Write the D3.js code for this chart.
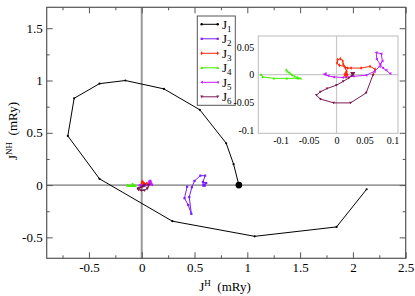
<!DOCTYPE html>
<html><head><meta charset="utf-8">
<script src="https://cdn.jsdelivr.net/npm/d3@7"></script>
<style>body{margin:0;background:#fff}svg{display:block}text{font-family:"Liberation Serif","Times New Roman",serif}</style>
</head><body>
<svg id="c" width="415" height="296"></svg>
<script>
// ---------- data ----------
const seriesNames = ["1","2","3","4","5","6"];
const J1 = [[0.92,0],[0.87,0.20],[0.80,0.40],[0.55,0.72],[0.21,0.92],[-0.155,1.00],[-0.40,0.97],[-0.64,0.83],[-0.70,0.47],[-0.40,0.06],[0.29,-0.345],[1.07,-0.49],[1.845,-0.40],[2.13,-0.04]];
const J2 = [[0.59,0.0],[0.61,0.02],[0.58,0.03],[0.60,0.09],[0.555,0.09],[0.50,0.04],[0.475,-0.02],[0.45,-0.115],[0.47,-0.275],[0.44,-0.19],[0.405,-0.125],[0.43,-0.015]];
const J3 = [[0.017,0],[0.018,0.006],[0.016,0.012],[0.012,0.019],[0.011,0.025],[0.007,0.029],[0.002,0.027],[0.001,0.021],[0.005,0.017],[0.014,0.015],[0.02,0.012],[0.026,0.012],[0.044,0.012],[0.06,0.015],[0.069,0.01],[0.066,0.001]];
const J4 = [[-0.09,0.009],[-0.088,0.006],[-0.085,0.004],[-0.082,0.002],[-0.079,-0.001],[-0.075,-0.003],[-0.07,-0.005],[-0.064,-0.0066],[-0.069,-0.0066],[-0.089,-0.0066],[-0.112,-0.0066],[-0.132,-0.004],[-0.135,0]];
const J5 = [[-0.021,0.001],[-0.015,-0.002],[-0.005,-0.004],[0.011,-0.005],[0.03,-0.003],[0.053,-0.001],[0.068,0.006],[0.077,0.015],[0.082,0.025],[0.08,0.038],[0.071,0.04],[0.072,0.028],[0.078,0.019],[0.083,0.012],[0.089,0.008],[0.096,0.002]];
const J6 = [[0.029,0.001],[0.027,-0.002],[0.022,-0.006],[0.012,-0.012],[0.0,-0.019],[-0.017,-0.025],[-0.029,-0.031],[-0.036,-0.037],[-0.029,-0.044],[-0.005,-0.051],[0.025,-0.051],[0.053,-0.033],[0.065,-0.001]];
const mainXTicks = [-0.5,0,0.5,1,1.5,2,2.5];
const mainYTicks = [-0.5,0,0.5,1,1.5];
const insetXTicks = [-0.1,-0.05,0,0.05,0.1];
const insetYTicks = [-0.1,-0.05,0,0.05];

const colors = ["#000000","#7a1cff","#ff2a0a","#44ee00","#c41cff","#7c1a52"];
const symbols = [d3.symbolCircle, d3.symbolSquare, d3.symbolDiamond, "up", "left", "down"];

const svg = d3.select("#c");

// ---------- main scales ----------
const x = d3.scaleLinear().domain([-0.9,2.5]).range([46.7,405.7]);
const y = d3.scaleLinear().domain([-0.7,1.7]).range([258.3,7.3]);

function tri(dir, s){
  const h=s;
  if(dir==="up") return `M0,${-h}L${h},${h*0.8}L${-h},${h*0.8}Z`;
  if(dir==="down") return `M0,${h}L${h},${-h*0.8}L${-h},${-h*0.8}Z`;
  if(dir==="left") return `M${-h},0L${h*0.8},${-h}L${h*0.8},${h}Z`;
  return `M${h},0L${-h*0.8},${-h}L${-h*0.8},${h}Z`;
}
function markerPath(i, size){
  const s = symbols[i];
  if(typeof s === "string") return tri(s, size);
  return d3.symbol().type(s).size(size*size*2.2)();
}

const gMain = svg.append("g");
// zero lines
gMain.append("line").attr("x1",x(0)).attr("x2",x(0)).attr("y1",y(1.7)).attr("y2",y(-0.7)).attr("stroke","#9a9a9a").attr("stroke-width",2);
gMain.append("line").attr("x1",x(-0.9)).attr("x2",x(2.5)).attr("y1",y(0)).attr("y2",y(0)).attr("stroke","#555").attr("stroke-width",1);

function drawSeries(g, sx, sy, data, i, msize, firstBig){
  g.append("path").datum(data)
    .attr("d", d3.line().x(d=>sx(d[0])).y(d=>sy(d[1])))
    .attr("fill","none").attr("stroke",colors[i]).attr("stroke-width",1);
  g.selectAll(null).data(data).enter().append("path")
    .attr("transform",d=>`translate(${sx(d[0])},${sy(d[1])})`)
    .attr("d",(d,k)=>markerPath(i, (k===0&&firstBig)? firstBig : msize))
    .attr("fill",colors[i]);
}
drawSeries(gMain,x,y,J1,0,1.3,4);
drawSeries(gMain,x,y,J2,1,1.5,2.4);
[J3,J4,J5,J6].forEach((d,k)=>drawSeries(gMain,x,y,d,k+2,1.6,null));

// frame
svg.append("rect").attr("x",x(-0.9)).attr("y",y(1.7)).attr("width",x(2.5)-x(-0.9)).attr("height",y(-0.7)-y(1.7))
  .attr("fill","none").attr("stroke","#555").attr("stroke-width",1.2);

// axes (ticks inward on all sides)
const fmt = d=>String(d);
const minorX = d3.range(-0.75,2.5,0.25).filter(v=>Math.abs(v*2-Math.round(v*2))>1e-6);
const minorY = d3.range(-0.5,1.75,0.25).filter(v=>Math.abs(v*2-Math.round(v*2))>1e-6);
function styleAxis(g){ g.select(".domain").remove(); g.selectAll("line").attr("stroke","#555"); g.selectAll("text").attr("font-size",13).attr("fill","#000").style("font-family",'"Liberation Serif",serif'); }
svg.append("g").attr("transform",`translate(0,${y(-0.7)})`).call(d3.axisBottom(x).tickValues(mainXTicks).tickSize(-6).tickPadding(4).tickFormat(fmt)).call(styleAxis);
svg.append("g").attr("transform",`translate(0,${y(-0.7)})`).call(d3.axisBottom(x).tickValues(minorX).tickSize(-3).tickFormat("")).call(styleAxis);
svg.append("g").attr("transform",`translate(0,${y(1.7)})`).call(d3.axisTop(x).tickValues(mainXTicks).tickSize(-6).tickFormat("")).call(styleAxis);
svg.append("g").attr("transform",`translate(0,${y(1.7)})`).call(d3.axisTop(x).tickValues(minorX).tickSize(-3).tickFormat("")).call(styleAxis);
svg.append("g").attr("transform",`translate(${x(-0.9)},0)`).call(d3.axisLeft(y).tickValues(mainYTicks).tickSize(-6).tickPadding(4).tickFormat(fmt)).call(styleAxis);
svg.append("g").attr("transform",`translate(${x(-0.9)},0)`).call(d3.axisLeft(y).tickValues(minorY).tickSize(-3).tickFormat("")).call(styleAxis);
svg.append("g").attr("transform",`translate(${x(2.5)},0)`).call(d3.axisRight(y).tickValues(mainYTicks).tickSize(-6).tickFormat("")).call(styleAxis);
svg.append("g").attr("transform",`translate(${x(2.5)},0)`).call(d3.axisRight(y).tickValues(minorY).tickSize(-3).tickFormat("")).call(styleAxis);

// axis titles
const xt = svg.append("text").attr("x",225).attr("y",291).attr("text-anchor","middle").attr("font-size",13);
xt.append("tspan").text("J");
xt.append("tspan").attr("dy",-5).attr("font-size",9).text("H");
xt.append("tspan").attr("dy",5).text("\u00a0 (mRy)");
const yt = svg.append("text").attr("transform","translate(17,131) rotate(-90)").attr("text-anchor","middle").attr("font-size",13);
yt.append("tspan").text("J");
yt.append("tspan").attr("dy",-5).attr("font-size",9).text("NH");
yt.append("tspan").attr("dy",5).text("\u00a0 (mRy)");

// ---------- legend ----------
const lg = svg.append("g");
lg.append("rect").attr("x",197.3).attr("y",16).attr("width",38).attr("height",89.3).attr("fill","#fff").attr("stroke","#555").attr("stroke-width",1);
seriesNames.forEach((n,i)=>{
  const yy = 24.3 + i*14.5;
  lg.append("line").attr("x1",201.7).attr("x2",217.7).attr("y1",yy).attr("y2",yy).attr("stroke",colors[i]).attr("stroke-width",1);
  [201.7,217.7].forEach(xx=>lg.append("path").attr("transform",`translate(${xx},${yy})`).attr("d",markerPath(i,1.5)).attr("fill",colors[i]));
  const t = lg.append("text").attr("x",222).attr("y",yy+4.5).attr("font-size",13);
  t.append("tspan").text("J");
  t.append("tspan").attr("dy",3).attr("font-size",9).text(n);
});

// ---------- inset ----------
const xi = d3.scaleLinear().domain([-0.14,0.11]).range([258.3,398]);
const yi = d3.scaleLinear().domain([-0.106,0.07]).range([133.3,36]);
const gi = svg.append("g");
gi.append("rect").attr("x",xi(-0.14)).attr("y",yi(0.07)).attr("width",xi(0.11)-xi(-0.14)).attr("height",yi(-0.106)-yi(0.07)).attr("fill","#fff");
gi.append("line").attr("x1",xi(0)).attr("x2",xi(0)).attr("y1",yi(0.07)).attr("y2",yi(-0.106)).attr("stroke","#c8c8c8").attr("stroke-width",1.2);
gi.append("line").attr("x1",xi(-0.14)).attr("x2",xi(0.11)).attr("y1",yi(0)).attr("y2",yi(0)).attr("stroke","#c8c8c8").attr("stroke-width",1.2);
drawSeries(gi,xi,yi,J3,2,1.4,3.2);
drawSeries(gi,xi,yi,J4,3,1.4,null);
drawSeries(gi,xi,yi,J5,4,1.5,2.2);
drawSeries(gi,xi,yi,J6,5,1.4,2.6);
gi.append("rect").attr("x",xi(-0.14)).attr("y",yi(0.07)).attr("width",xi(0.11)-xi(-0.14)).attr("height",yi(-0.106)-yi(0.07)).attr("fill","none").attr("stroke","#bbb").attr("stroke-width",1);
function styleInset(g){ g.select(".domain").remove(); g.selectAll("line").attr("stroke","#bbb"); g.selectAll("text").attr("font-size",10).attr("fill","#000").style("font-family",'"Liberation Serif",serif'); }
svg.append("g").attr("transform",`translate(0,${yi(-0.106)})`).call(d3.axisBottom(xi).tickValues(insetXTicks).tickSize(0).tickPadding(4).tickFormat(fmt)).call(styleInset);
svg.append("g").attr("transform",`translate(${xi(-0.14)},0)`).call(d3.axisLeft(yi).tickValues(insetYTicks).tickSize(0).tickPadding(4).tickFormat(fmt)).call(styleInset);
</script>
</body></html>
